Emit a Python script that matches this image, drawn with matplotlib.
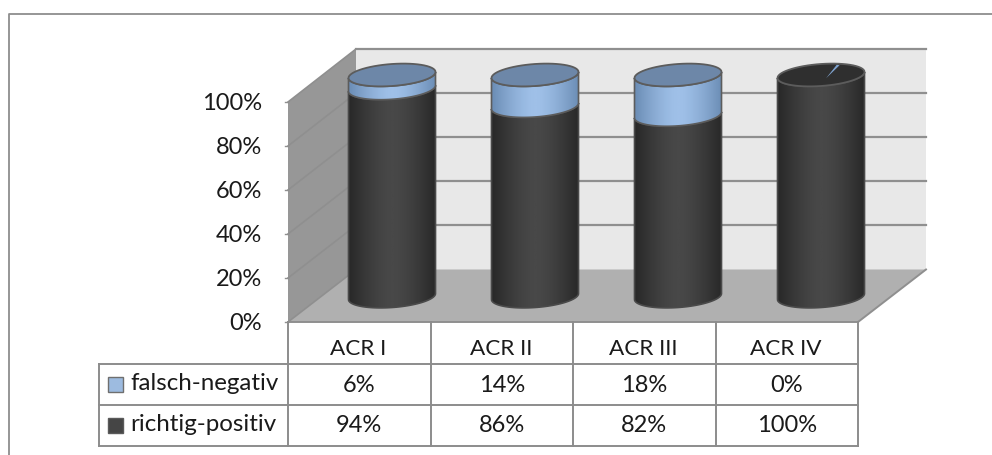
import numpy as np
import matplotlib
matplotlib.use("Agg")
import matplotlib.pyplot as plt
from matplotlib.colors import to_rgb
from matplotlib.patches import PathPatch, Polygon, Rectangle
from matplotlib.path import Path

plt.rcParams['font.family'] = ['Lato', 'DejaVu Sans']

# Daten
categories = ["ACR I", "ACR II", "ACR III", "ACR IV"]
series_names = ["falsch-negativ", "richtig-positiv"]
falsch_negativ = [6, 14, 18, 0]
richtig_positiv = [94, 86, 82, 100]
y_ticks = [0, 20, 40, 60, 80, 100]

W, H = 992, 455
GRID = "#8f8f8f"
LINE = "#8c8c8c"
TXT = "#1a1a1a"
FS = 16.2
FS_NUM = 17
FS_LEG = 17.4

fig = plt.figure(figsize=(W / 100, H / 100), dpi=100, facecolor="white")

# Rahmen, Waende und Tabelle in Pixelkoordinaten
bg = fig.add_axes([0, 0, 1, 1])
bg.set_xlim(0, W)
bg.set_ylim(H, 0)
bg.axis("off")

bg.plot([8.5, 8.5, W], [H, 13.5, 13.5], color="#8e8e8e", lw=1.3)

fx0, fx1, bx0, bx1 = 288, 858, 356, 926
by_top, by_bot, fy_bot, fy_top = 49, 269.5, 322, 102
step = (by_bot - by_top) / 5

bg.add_patch(Polygon([(bx0, by_top), (bx1, by_top), (bx1, by_bot), (bx0, by_bot)], fc="#e8e8e8", ec="none"))
bg.add_patch(Polygon([(fx0, fy_top), (bx0, by_top), (bx0, by_bot), (fx0, fy_bot)], fc="#979797", ec="none"))
bg.add_patch(Polygon([(fx0, fy_bot), (fx1, fy_bot), (bx1, by_bot), (bx0, by_bot)], fc="#b0b0b0", ec="none"))

for t in y_ticks:
    yb = by_bot - step * t / 20
    yf = fy_bot - (fy_bot - fy_top) * t / 100
    bg.plot([fx0, bx0], [yf, yb], color=GRID, lw=1.2)
    if t > 0:
        bg.plot([bx0, bx1], [yb, yb], color=GRID, lw=1.6)
    bg.plot([fx0 - 3, fx0], [yf, yf], color=GRID, lw=1)
    bg.text(262, yf + 1, f"{t}%", ha="right", va="center", fontsize=FS_NUM, color=TXT)

bg.plot([fx0, fx1, bx1], [fy_bot, fy_bot, by_bot], color=GRID, lw=1.4)

# Datentabelle unter dem Diagramm
col_x = np.linspace(fx0, fx1, len(categories) + 1)
row_y = [fy_bot, 364, 405, 446]
legend_x = 99
for x in col_x:
    bg.plot([x, x], [row_y[0], row_y[-1]], color=LINE, lw=1.4)
bg.plot([legend_x, legend_x], [row_y[1], row_y[-1]], color=LINE, lw=1.4)
for y in row_y[1:]:
    bg.plot([legend_x, fx1], [y, y], color=LINE, lw=1.4)

for i, name in enumerate(categories):
    xc = (col_x[i] + col_x[i + 1]) / 2
    bg.text(xc - 1, 349, name, ha="center", va="center", fontsize=FS, color=TXT)
    bg.text(xc, 385, f"{falsch_negativ[i]}%", ha="center", va="center", fontsize=FS_NUM, color=TXT)
    bg.text(xc, 426, f"{richtig_positiv[i]}%", ha="center", va="center", fontsize=FS_NUM, color=TXT)

key_colors = [("#9dbbe0", "#6f6f6f"), ("#454545", "#5a5a5a")]
for j, name in enumerate(series_names):
    y = row_y[j + 1] + 12.5
    bg.add_patch(Rectangle((108, y), 15, 15, fc=key_colors[j][0], ec=key_colors[j][1], lw=1))
    bg.text(130, y + 7, name, ha="left", va="center", fontsize=FS_LEG, color=TXT)

# Zylinder: x in Kategorien, y in Prozent
PX_PER_CAT = 143.0
PX_PER_PCT = 2.215
x0_px, y0_px = 392.0, 296.5
ax = fig.add_axes([0, 0, 1, 1], facecolor="none")
ax.set_xlim(-x0_px / PX_PER_CAT, (W - x0_px) / PX_PER_CAT)
ax.set_ylim((y0_px - H) / PX_PER_PCT, y0_px / PX_PER_PCT)
ax.axis("off")

half_w = 43.5 / PX_PER_CAT
minor = 11 / PX_PER_PCT
shear = 3 / PX_PER_PCT


def rim(xc, level, a, b):
    # a, b: Parameterbereich des Winkels auf der geneigten Ellipse
    t = np.linspace(a, b, 61)
    return np.c_[xc + half_w * np.cos(t), level + shear * np.cos(t) + minor * np.sin(t)]


def shade(edge, mid):
    u = np.abs(np.linspace(-1, 1, 128))
    u = np.clip((u - 0.05) / 0.95, 0, 1) ** 1.4
    edge, mid = np.array(to_rgb(edge)), np.array(to_rgb(mid))
    return (mid[None, :] * (1 - u[:, None]) + edge[None, :] * u[:, None])[None, :, :]


def segment(xc, low, high, edge, mid, z, outline):
    # Mantelflaeche von low bis high mit waagerechtem Verlauf
    pts = np.vstack([rim(xc, low, np.pi, 2 * np.pi), rim(xc, high, 0, -np.pi)])
    patch = PathPatch(Path(np.vstack([pts, pts[0]])), fc="none", ec=outline, lw=1.2, zorder=z + 0.1)
    ax.add_patch(patch)
    im = ax.imshow(shade(edge, mid), extent=[xc - half_w, xc + half_w, low - 8, high + 8],
                   aspect="auto", zorder=z, interpolation="bilinear")
    im.set_clip_path(patch)


for i in range(len(categories)):
    top_pos = richtig_positiv[i]
    top_all = top_pos + falsch_negativ[i]
    segment(i, 0, top_pos, "#282828", "#484848", 2, "#4a4a4a")
    if falsch_negativ[i] > 0:
        segment(i, top_pos, top_all, "#6b8db5", "#9fc0e8", 3, "#5c5c5c")
        lid = "#6d87a8"
    else:
        lid = "#2f2f2f"
    ax.fill(*rim(i, top_all, 0, 2 * np.pi).T, fc=lid, ec="#5c5c5c", lw=1.3, zorder=4)
    if falsch_negativ[i] == 0:
        # schmaler blauer Rest des 0-%-Segments auf dem Deckel
        ax.fill([i + 0.035, i + 0.13, i + 0.11], [top_all - 1.5, top_all + 4.4, top_all + 4.6],
                fc="#7fa3cf", ec="none", zorder=5)

fig.savefig("out.png", dpi=100)
